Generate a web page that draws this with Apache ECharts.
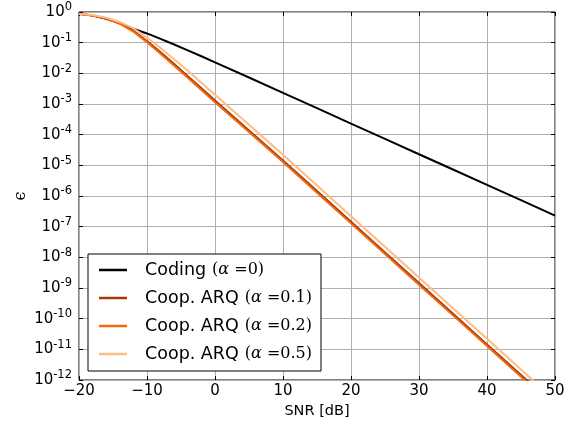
<!DOCTYPE html>
<html><head><meta charset="utf-8">
<script src="https://cdn.jsdelivr.net/npm/echarts@6/dist/echarts.min.js"></script>
<style>html,body{margin:0;padding:0;background:#fff}#c{width:579px;height:421px}</style>
</head><body><div id="c"></div>
<script>
const snr = [-20,-18,-16,-14,-12,-10,-8,-6,-4,-2,0,5,10,15,20,25,30,35,40,45,50];
const coding = [0.87,0.77,0.60,0.43,0.285,0.20,0.133,0.087,0.056,0.036,0.0227,7.3e-3,2.3e-3,7.3e-4,2.3e-4,7.3e-5,2.3e-5,7.3e-6,2.3e-6,7.3e-7,2.3e-7];
const arq01 = [0.861,0.776,0.624,0.431,0.243,0.1135,0.0484,0.0200,8.1e-3,3.25e-3,1.3e-3,1.38e-4,1.45e-5,1.45e-6,1.45e-7,1.45e-8,1.45e-9,1.45e-10,1.45e-11,1.45e-12,1.45e-13];
const arq02 = [0.858,0.770,0.612,0.415,0.228,0.104,0.0435,0.0178,7.2e-3,2.88e-3,1.15e-3,1.22e-4,1.28e-5,1.28e-6,1.28e-7,1.28e-8,1.28e-9,1.28e-10,1.28e-11,1.28e-12,1.28e-13];
const arq05 = [0.875,0.794,0.655,0.474,0.292,0.1466,0.067,0.0289,0.0121,4.95e-3,2.0e-3,2.1e-4,2.2e-5,2.2e-6,2.2e-7,2.2e-8,2.2e-9,2.2e-10,2.2e-11,2.2e-12,2.2e-13];
const seriesNames = ['Coding','Coop. ARQ a0.1','Coop. ARQ a0.2','Coop. ARQ a0.5'];
const legendLabels = ['Coding','Coop. ARQ','Coop. ARQ','Coop. ARQ'];
const alphaLabels = ['0','0.1','0.2','0.5'];
const colors = ['#000000','#a63603','#f16913','#fdbe85'];

const allData = [coding, arq01, arq02, arq05];
const chart = echarts.init(document.getElementById('c'), null, {renderer:'canvas'});
const sans = 'DejaVu Sans';
const serif = 'DejaVu Serif';
function yLabel(v){
  const e = Math.round(Math.log10(v));
  const s = e < 0 ? '-' + Math.abs(e) : String(e);
  return '{b|10}{s|' + s + '}';
}
const yRich = {
  b:{fontFamily:sans,fontSize:15,color:'#000',lineHeight:21,verticalAlign:'middle'},
  s:{fontFamily:sans,fontSize:11.5,color:'#000',lineHeight:11,verticalAlign:'top'}
};
const series = allData.map((d,i)=>({
  name: seriesNames[i],
  type:'line',
  symbol:'none',
  showSymbol:false,
  data: snr.map((x,j)=>[x,d[j]]),
  lineStyle:{color:colors[i],width:2},
  itemStyle:{color:colors[i]},
  clip:true,
  z: 3+i
}));
chart.setOption({
  animation:false,
  backgroundColor:'#fff',
  grid:{left:79,right:24,top:12,bottom:41,containLabel:false,outerBoundsMode:'none',
    show:true,borderColor:'#000',borderWidth:1,backgroundColor:'transparent'},
  legend:{
    orient:'vertical',left:88,top:254,
    backgroundColor:'#fff',borderColor:'#000',borderWidth:1,borderRadius:0,
    padding:[7,9,8,11],itemGap:10,itemWidth:28,itemHeight:2.5,
    icon:'rect',
    data: seriesNames,
    formatter: function(name){
      const i = seriesNames.indexOf(name);
      return '{t|' + legendLabels[i] + '}{m|(}{a|α}{m| =' + alphaLabels[i] + ')}';
    },
    textStyle:{
      padding:[0,0,0,13],
      rich:{
        t:{fontFamily:sans,fontSize:17.5,color:'#000',lineHeight:18,padding:[0,6,0,0]},
        m:{fontFamily:serif,fontSize:16,color:'#000',lineHeight:18},
        a:{fontFamily:serif,fontSize:16,fontStyle:'italic',color:'#000',lineHeight:18}
      }
    }
  },
  xAxis:[{
    type:'value',min:-20,max:50,interval:10,position:'bottom',
    name:'SNR [dB]',nameLocation:'middle',nameGap:24,nameMoveOverlap:false,
    nameTextStyle:{fontFamily:sans,fontSize:14.5,color:'#000'},
    axisLine:{show:false,onZero:false},
    axisTick:{show:true,inside:true,length:4,lineStyle:{color:'#000'}},
    axisLabel:{fontFamily:sans,fontSize:15,color:'#000',margin:4,
      formatter:v=> v<0 ? '\u2212'+Math.abs(v) : String(v)},
    splitLine:{show:true,lineStyle:{color:'#b0b0b0',width:1}}
  },{
    type:'value',min:-20,max:50,interval:10,position:'top',
    axisLine:{show:false,onZero:false},axisLabel:{show:false},splitLine:{show:false},
    axisTick:{show:true,inside:true,length:4,lineStyle:{color:'#000'}}
  }],
  yAxis:[{
    type:'log',logBase:10,min:1e-12,max:1,interval:1,position:'left',
    name:'\u03F5',nameLocation:'middle',nameGap:50,nameRotate:90,nameMoveOverlap:false,
    nameTextStyle:{fontFamily:serif,fontSize:16,color:'#000'},
    axisLine:{show:false,onZero:false},
    axisTick:{show:true,inside:true,length:4,lineStyle:{color:'#000'}},
    axisLabel:{margin:7,formatter:yLabel,rich:yRich},
    splitLine:{show:true,lineStyle:{color:'#b0b0b0',width:1}},
    minorTick:{show:false}
  },{
    type:'log',logBase:10,min:1e-12,max:1,interval:1,position:'right',
    axisLine:{show:false,onZero:false},axisLabel:{show:false},splitLine:{show:false},
    axisTick:{show:true,inside:true,length:4,lineStyle:{color:'#000'}}
  }],
  series: series
});
</script>
</body></html>
